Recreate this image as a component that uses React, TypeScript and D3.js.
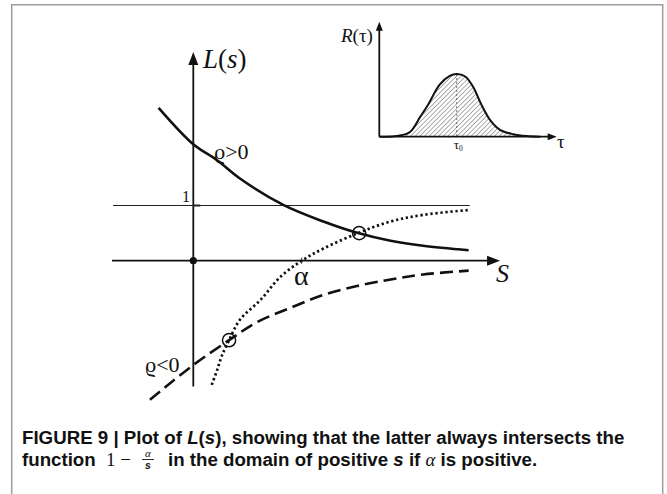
import React from "react";
import * as d3 from "d3";

// L(s) for rho > 0 (solid)
const sPos = [-0.32, 0, 0.22, 0.43, 0.83, 1.2, 1.52, 1.82, 2.12, 2.54];
const lPos = [2.77, 2.11, 1.82, 1.49, 1.01, 0.71, 0.5, 0.36, 0.27, 0.19];

// L(s) for rho < 0 (dashed)
const sNeg = [-0.4, 0, 0.33, 0.59, 0.89, 1.2, 1.51, 1.82, 2.12, 2.54];
const lNeg = [-2.52, -1.89, -1.44, -1.11, -0.86, -0.62, -0.46, -0.34, -0.25, -0.18];

// 1 - alpha/s (dotted)
const sDot = [0.17, 0.22, 0.26, 0.33, 0.43, 0.62, 0.8, 1.0, 1.2, 1.52, 1.82, 2.12, 2.55];
const lDot = [-2.25, -1.98, -1.74, -1.44, -1.07, -0.71, -0.3, 0, 0.22, 0.5, 0.71, 0.83, 0.92];

// circled intersections
const crossS = [0.33, 1.53];
const crossL = [-1.44, 0.5];

// inset R(tau)
const tau = [0, 0.27, 0.4, 0.53, 0.63, 0.78, 0.91, 1, 1.11, 1.21, 1.32, 1.43, 1.56, 1.73, 1.9, 2.08];
const rVal = [0, 0.02, 0.08, 0.32, 0.51, 0.83, 0.97, 1, 0.96, 0.8, 0.51, 0.27, 0.11, 0.04, 0.01, 0];

const serif = "'Liberation Serif', 'DejaVu Serif', serif";
const sans = "'Liberation Sans', Arial, sans-serif";

const zip = (a: number[], b: number[]) => a.map((v, i) => [v, b[i]] as [number, number]);

const arrow = (tx: number, ty: number, dir: "up" | "right", len: number, half: number) =>
  dir === "up"
    ? `M${tx},${ty}L${tx - half},${ty + len}L${tx + half},${ty + len}Z`
    : `M${tx},${ty}L${tx - len},${ty - half}L${tx - len},${ty + half}Z`;

export default function App() {
  const x = d3.scaleLinear().domain([0, 1]).range([193.3, 301.7]);
  const y = d3.scaleLinear().domain([0, 1]).range([260.7, 205.5]);

  const line = d3
    .line<[number, number]>()
    .x((d) => x(d[0]))
    .y((d) => y(d[1]))
    .curve(d3.curveCatmullRom.alpha(0.5));

  // inset scales
  const tx = d3.scaleLinear().domain([0, 1]).range([379.3, 456.7]);
  const ry = d3.scaleLinear().domain([0, 1]).range([136.7, 74]);
  const bump = zip(tau, rVal);
  const bumpLine = d3
    .line<[number, number]>()
    .x((d) => tx(d[0]))
    .y((d) => ry(d[1]))
    .curve(d3.curveCatmullRom.alpha(0.5));
  const bumpArea = d3
    .area<[number, number]>()
    .x((d) => tx(d[0]))
    .y0(ry(0))
    .y1((d) => ry(d[1]))
    .curve(d3.curveCatmullRom.alpha(0.5));

  const x0 = x(0);
  const y0 = y(0);

  return (
    <svg
      width={667}
      height={494}
      style={{ position: "absolute", left: 0, top: 0, background: "#fff" }}
    >
      <defs>
        <pattern
          id="hatch"
          patternUnits="userSpaceOnUse"
          width={3.3}
          height={3.3}
          patternTransform="rotate(45)"
        >
          <line x1={0} y1={0} x2={0} y2={3.3} stroke="#333" strokeWidth={0.8} />
        </pattern>
      </defs>

      {/* frame */}
      <path d="M11.7,494V4.7H662.7V494" fill="none" stroke="#9d9d9d" strokeWidth={1.5} />

      {/* main axes */}
      <line x1={x0} y1={y(-2.28)} x2={x0} y2={y(3.6)} stroke="#111" strokeWidth={1.8} />
      <path d={arrow(x0, y(3.78), "up", 13, 5)} fill="#111" />
      <line x1={x(-0.75)} y1={y0} x2={x(2.72)} y2={y0} stroke="#111" strokeWidth={1.8} />
      <path d={arrow(x(2.83), y0, "right", 13, 5)} fill="#111" />

      {/* level L = 1 */}
      <line x1={x(-0.74)} y1={y(1)} x2={x(2.55)} y2={y(1)} stroke="#222" strokeWidth={1} />
      <line x1={x0} y1={y(1)} x2={x0 + 7} y2={y(1)} stroke="#222" strokeWidth={2} />
      <line x1={x(1)} y1={y0 - 3} x2={x(1)} y2={y0 + 3} stroke="#222" strokeWidth={1} />
      <circle cx={x0} cy={y0} r={3.6} fill="#111" />

      {/* curves */}
      <path d={line(zip(sPos, lPos)) || ""} fill="none" stroke="#111" strokeWidth={2.6} />
      <path
        d={line(zip(sNeg, lNeg)) || ""}
        fill="none"
        stroke="#111"
        strokeWidth={2.6}
        strokeDasharray="13 6"
      />
      <path
        d={line(zip(sDot, lDot)) || ""}
        fill="none"
        stroke="#111"
        strokeWidth={2.7}
        strokeDasharray="2.3 2.7"
      />
      {crossS.map((s, i) => (
        <circle key={i} cx={x(s)} cy={y(crossL[i])} r={6.6} fill="none" stroke="#111" strokeWidth={1.5} />
      ))}

      {/* main labels */}
      <text x={203} y={68} fontFamily={serif} fontSize={27} fill="#111">
        <tspan fontStyle="italic">L</tspan>(<tspan fontStyle="italic">s</tspan>)
      </text>
      <text x={496} y={282} fontFamily={serif} fontSize={26} fontStyle="italic" fill="#111">
        S
      </text>
      <text x={294} y={285} fontFamily={serif} fontSize={28} fill="#111">
        α
      </text>
      <text x={182} y={202} fontFamily={serif} fontSize={16} fill="#111">
        1
      </text>
      <text x={214} y={158.5} fontFamily={serif} fontSize={22} fill="#111">
        ϱ&gt;0
      </text>
      <text x={145} y={372} fontFamily={serif} fontSize={22} fill="#111">
        ϱ&lt;0
      </text>

      {/* inset */}
      <path d={bumpArea(bump) || ""} fill="url(#hatch)" stroke="none" />
      <line x1={tx(1)} y1={ry(1)} x2={tx(1)} y2={ry(0)} stroke="#555" strokeWidth={0.8} strokeDasharray="2 2" />
      <path d={bumpLine(bump) || ""} fill="none" stroke="#111" strokeWidth={2} />
      <line x1={tx(0)} y1={ry(0)} x2={tx(0)} y2={30} stroke="#111" strokeWidth={1.8} />
      <path d={arrow(tx(0), 21.7, "up", 9, 3.5)} fill="#111" />
      <line x1={tx(0)} y1={ry(0)} x2={548} y2={ry(0)} stroke="#111" strokeWidth={1.8} />
      <path d={arrow(556.7, ry(0), "right", 9, 3.5)} fill="#111" />
      <text x={341} y={42} fontFamily={serif} fontSize={19} fill="#111">
        <tspan fontStyle="italic">R</tspan>(τ)
      </text>
      <text x={557} y={148} fontFamily={serif} fontSize={19} fill="#111">
        τ
      </text>
      <text x={tx(1) - 3} y={149} fontFamily={serif} fontSize={13} fill="#111">
        τ<tspan fontSize={7.5} dy={2}>0</tspan>
      </text>

      {/* caption */}
      <text x={22} y={444} fontFamily={sans} fontSize={18.7} fontWeight="bold" fill="#111">
        FIGURE 9 | Plot of <tspan fontStyle="italic">L</tspan>(<tspan fontStyle="italic">s</tspan>), showing that the
        latter always intersects the
      </text>
      <text x={22} y={466} fontFamily={sans} fontSize={18.7} fontWeight="bold" fill="#111">
        function
      </text>
      <text x={106} y={466} fontFamily={serif} fontSize={19} fill="#111">
        1 −
      </text>
      <text x={148} y={457} fontFamily={serif} fontSize={11} fontStyle="italic" textAnchor="middle" fill="#111">
        α
      </text>
      <line x1={142} y1={459.5} x2={154} y2={459.5} stroke="#111" strokeWidth={0.9} />
      <text
        x={148}
        y={469}
        fontFamily={sans}
        fontSize={10.5}
        fontWeight="bold"
        fontStyle="italic"
        textAnchor="middle"
        fill="#111"
      >
        s
      </text>
      <text x={168} y={466} fontFamily={sans} fontSize={18.7} fontWeight="bold" fill="#111">
        in the domain of positive <tspan fontStyle="italic">s</tspan> if{" "}
        <tspan fontFamily={serif} fontStyle="italic" fontWeight="normal">
          α
        </tspan>{" "}
        is positive.
      </text>
    </svg>
  );
}
